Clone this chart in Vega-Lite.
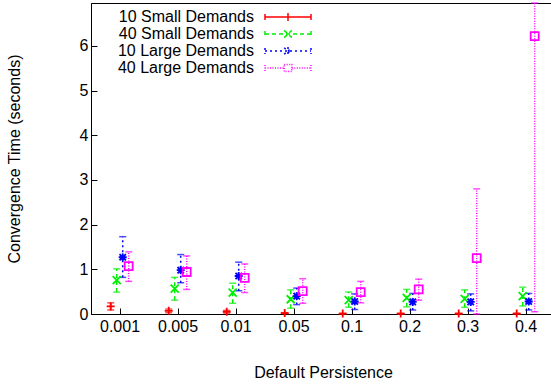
{
  "$schema": "https://vega.github.io/schema/vega-lite/v6.json",
  "autosize": "none",
  "padding": {"left": 91, "top": 3, "right": 0, "bottom": 71},
  "width": 460,
  "height": 311,
  "config": {
    "font": "Liberation Sans",
    "view": {"stroke": "#000000", "strokeWidth": 1},
    "axis": {"grid": false, "domainColor": "#000000", "tickColor": "#000000", "labelColor": "#000000", "titleColor": "#000000", "labelFont": "Liberation Sans", "titleFont": "Liberation Sans", "labelFontSize": 16, "titleFontSize": 16, "titleFontWeight": "normal"}
  },
  "datasets": {
    "runs": [
      {"p": "0.001", "s": "10 Small Demands", "m": 0.17, "lo": 0.09, "hi": 0.25},
      {"p": "0.001", "s": "40 Small Demands", "m": 0.76, "lo": 0.49, "hi": 1.01},
      {"p": "0.001", "s": "10 Large Demands", "m": 1.27, "lo": 0.82, "hi": 1.73},
      {"p": "0.001", "s": "40 Large Demands", "m": 1.07, "lo": 0.73, "hi": 1.39},
      {"p": "0.005", "s": "10 Small Demands", "m": 0.07, "lo": 0.03, "hi": 0.11},
      {"p": "0.005", "s": "40 Small Demands", "m": 0.57, "lo": 0.31, "hi": 0.82},
      {"p": "0.005", "s": "10 Large Demands", "m": 0.98, "lo": 0.70, "hi": 1.33},
      {"p": "0.005", "s": "40 Large Demands", "m": 0.94, "lo": 0.55, "hi": 1.30},
      {"p": "0.01", "s": "10 Small Demands", "m": 0.05, "lo": 0.02, "hi": 0.08},
      {"p": "0.01", "s": "40 Small Demands", "m": 0.48, "lo": 0.24, "hi": 0.69},
      {"p": "0.01", "s": "10 Large Demands", "m": 0.85, "lo": 0.52, "hi": 1.16},
      {"p": "0.01", "s": "40 Large Demands", "m": 0.81, "lo": 0.48, "hi": 1.12},
      {"p": "0.05", "s": "10 Small Demands", "m": 0.02, "lo": 0.01, "hi": 0.03},
      {"p": "0.05", "s": "40 Small Demands", "m": 0.33, "lo": 0.13, "hi": 0.54},
      {"p": "0.05", "s": "10 Large Demands", "m": 0.40, "lo": 0.21, "hi": 0.58},
      {"p": "0.05", "s": "40 Large Demands", "m": 0.51, "lo": 0.24, "hi": 0.79},
      {"p": "0.1", "s": "10 Small Demands", "m": 0.01, "lo": 0.005, "hi": 0.015},
      {"p": "0.1", "s": "40 Small Demands", "m": 0.31, "lo": 0.15, "hi": 0.49},
      {"p": "0.1", "s": "10 Large Demands", "m": 0.28, "lo": 0.10, "hi": 0.45},
      {"p": "0.1", "s": "40 Large Demands", "m": 0.49, "lo": 0.25, "hi": 0.73},
      {"p": "0.2", "s": "10 Small Demands", "m": 0.01, "lo": 0.005, "hi": 0.015},
      {"p": "0.2", "s": "40 Small Demands", "m": 0.36, "lo": 0.16, "hi": 0.55},
      {"p": "0.2", "s": "10 Large Demands", "m": 0.27, "lo": 0.09, "hi": 0.46},
      {"p": "0.2", "s": "40 Large Demands", "m": 0.55, "lo": 0.31, "hi": 0.78},
      {"p": "0.3", "s": "10 Small Demands", "m": 0.01, "lo": 0.005, "hi": 0.015},
      {"p": "0.3", "s": "40 Small Demands", "m": 0.34, "lo": 0.15, "hi": 0.54},
      {"p": "0.3", "s": "10 Large Demands", "m": 0.27, "lo": 0.07, "hi": 0.45},
      {"p": "0.3", "s": "40 Large Demands", "m": 1.25, "lo": 0.0, "hi": 2.80},
      {"p": "0.4", "s": "10 Small Demands", "m": 0.01, "lo": 0.005, "hi": 0.015},
      {"p": "0.4", "s": "40 Small Demands", "m": 0.40, "lo": 0.18, "hi": 0.60},
      {"p": "0.4", "s": "10 Large Demands", "m": 0.28, "lo": 0.09, "hi": 0.46},
      {"p": "0.4", "s": "40 Large Demands", "m": 6.22, "lo": 0.05, "hi": 6.96}
    ]
  },
  "data": {"name": "runs"},
  "encoding": {
    "x": {"field": "p", "type": "ordinal", "sort": ["0.001", "0.005", "0.01", "0.05", "0.1", "0.2", "0.3", "0.4"],
      "scale": {"type": "band", "paddingInner": 0, "paddingOuter": 0, "range": [0, 464]},
      "axis": {"title": "Default Persistence", "labelAngle": 0, "tickSize": -6, "labelPadding": 10, "titlePadding": 30, "domain": true}},
    "xOffset": {"field": "s", "type": "nominal",
      "scale": {"type": "point", "padding": 0, "domain": ["10 Small Demands", "40 Small Demands", "10 Large Demands", "40 Large Demands"], "range": [19.7, 37.7]}},
    "color": {"field": "s", "type": "nominal",
      "scale": {"domain": ["10 Small Demands", "40 Small Demands", "10 Large Demands", "40 Large Demands"], "range": ["#ff0000", "#00ee00", "#0000ff", "#ff00ff"]},
      "legend": null}
  },
  "layer": [
    {
      "mark": {"type": "rule", "strokeWidth": 1.5},
      "encoding": {
        "y": {"field": "lo", "type": "quantitative", "scale": {"domain": [0, 6.96], "nice": false, "zero": false},
          "axis": {"title": "Convergence Time (seconds)", "values": [0, 1, 2, 3, 4, 5, 6], "tickSize": -6, "labelPadding": 9, "titlePadding": 57}},
        "y2": {"field": "hi"},
        "strokeDash": {"field": "s", "type": "nominal",
          "scale": {"domain": ["10 Small Demands", "40 Small Demands", "10 Large Demands", "40 Large Demands"], "range": [[1, 0], [4, 3], [2, 3], [1, 1.5]]},
          "legend": null},
        "color": {"field": "s", "type": "nominal",
          "legend": {
            "orient": "none", "legendX": 173, "legendY": 5, "title": null,
            "labelAlign": "right", "labelOffset": -28, "labelFontSize": 16, "labelFont": "Liberation Sans", "labelColor": "#000000",
            "symbolSize": 256, "rowPadding": -1.6, "symbolStrokeWidth": 1.5, "padding": 0,
            "encode": {"symbols": {"update": {
              "shape": {"signal": "datum.value === '10 Small Demands' ? 'M-1,0L4.75,0M-1,-0.375L-1,0.375M4.75,-0.375L4.75,0.375M1.875,-0.5L1.875,0.5' : datum.value === '40 Small Demands' ? 'M-1,0L4.75,0M-1,-0.375L-1,0.375M4.75,-0.375L4.75,0.375M1.4,-0.45L2.35,0.45M1.4,0.45L2.35,-0.45' : datum.value === '10 Large Demands' ? 'M-1,0L4.75,0M-1,-0.375L-1,0.375M4.75,-0.375L4.75,0.375M1.4,-0.4L2.35,0.4M1.4,0.4L2.35,-0.4M1.875,-0.5L1.875,0.5' : 'M-1,0L1.4,0M2.35,0L4.75,0M-1,-0.375L-1,0.375M4.75,-0.375L4.75,0.375M1.4,-0.45L2.35,-0.45L2.35,0.45L1.4,0.45Z'"},
              "strokeDash": {"signal": "datum.value === '10 Small Demands' ? [1,0] : datum.value === '40 Small Demands' ? [4,3] : datum.value === '10 Large Demands' ? [2,3] : [1,1.5]"},
              "fill": {"value": "transparent"},
              "fillOpacity": {"value": 0}
            }}}
          }}
      }
    },
    {
      "mark": {"type": "tick", "orient": "horizontal", "size": 7, "thickness": 1.5},
      "encoding": {"y": {"field": "lo", "type": "quantitative"}}
    },
    {
      "mark": {"type": "tick", "orient": "horizontal", "size": 7, "thickness": 1.5},
      "encoding": {"y": {"field": "hi", "type": "quantitative"}}
    },
    {
      "transform": [{"filter": "datum.s === '10 Small Demands'"}],
      "mark": {"type": "point", "filled": false, "size": 64, "strokeWidth": 1.8, "opacity": 1, "shape": "M-1,0L1,0M0,-1L0,1"},
      "encoding": {"y": {"field": "m", "type": "quantitative"}}
    },
    {
      "transform": [{"filter": "datum.s === '40 Small Demands'"}],
      "mark": {"type": "point", "filled": false, "size": 64, "strokeWidth": 1.8, "opacity": 1, "shape": "M-1,-1L1,1M-1,1L1,-1"},
      "encoding": {"y": {"field": "m", "type": "quantitative"}}
    },
    {
      "transform": [{"filter": "datum.s === '10 Large Demands'"}],
      "mark": {"type": "point", "filled": false, "size": 64, "strokeWidth": 1.8, "opacity": 1, "shape": "M-1,0L1,0M0,-1L0,1M-0.8,-0.8L0.8,0.8M-0.8,0.8L0.8,-0.8"},
      "encoding": {"y": {"field": "m", "type": "quantitative"}}
    },
    {
      "transform": [{"filter": "datum.s === '40 Large Demands'"}],
      "mark": {"type": "point", "filled": false, "size": 64, "strokeWidth": 1.8, "opacity": 1, "shape": "square"},
      "encoding": {"y": {"field": "m", "type": "quantitative"}}
    }
  ]
}
